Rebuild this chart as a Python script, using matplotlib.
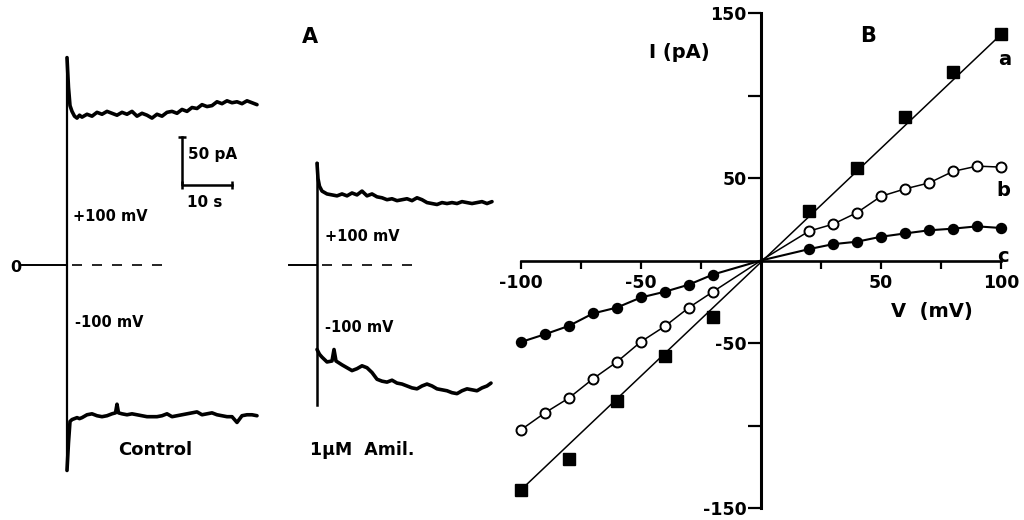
import matplotlib
matplotlib.use("Agg")
import matplotlib.pyplot as plt
import numpy as np

plt.rcParams['font.family'] = ['DejaVu Sans']
plt.rcParams['font.weight'] = 'bold'

# ---- panel A: current traces (time in s, current in pA) ----
ctrl_up_t = [0, 0.3, 0.6, 1, 1.5, 2, 2.5, 3] + list(range(4, 39))
ctrl_up_i = [216, 185, 166, 160, 155, 153, 156, 154,
             157, 155, 159, 157, 160, 158, 156, 159, 157, 160,
             155, 158, 156, 153, 157, 155, 159, 160, 158, 162,
             160, 164, 163, 167, 165, 166, 170, 168, 171, 169,
             170, 168, 171, 169, 167]

ctrl_dn_t = [0, 0.3, 0.6, 1, 1.5, 2, 2.5, 3, 4, 5, 6, 7, 8, 9, 9.7, 10, 10.3] + list(range(11, 39))
ctrl_dn_i = [-214, -185, -163, -161, -160, -159, -160, -159,
             -156, -155, -157, -158, -157, -155, -154, -145, -154,
             -155, -156, -155, -156, -157, -158, -158, -158, -157, -155,
             -158, -157, -156, -155, -154, -153, -156, -155, -154, -156,
             -157, -158, -158, -164, -157, -156, -156, -157]

amil_up_t = [0, 0.2, 0.5] + list(range(1, 36))
amil_up_i = [106, 90, 82,
             77, 74, 73, 72, 74, 72, 75, 73, 77, 72,
             74, 71, 70, 68, 69, 67, 68, 69, 67, 70,
             68, 65, 64, 63, 65, 64, 65, 64, 66, 65,
             64, 65, 66, 64, 66]

amil_dn_t = [0, 0.5, 1, 2, 3, 3.4, 3.8] + list(range(5, 35)) + [34.8]
amil_dn_i = [-88, -93, -96, -101, -100, -88, -100,
             -104, -107, -110, -108, -105, -107, -112, -119, -121, -122,
             -120, -123, -124, -126, -128, -129, -126, -124, -126, -129,
             -130, -131, -133, -134, -131, -129, -130, -131, -128, -126,
             -123]

ctrl_artifact = [-214, 216]
amil_artifact = [-146, 106]
amil_offset = 50  # s, second recording drawn to the right

# ---- panel B: I-V curves ----
v_a = [-100, -80, -60, -40, -20, 20, 40, 60, 80, 100]
i_a = [-139, -120, -85, -58, -34, 30, 56, 87, 114, 137]

v_bc = [-100, -90, -80, -70, -60, -50, -40, -30, -20, 0,
        20, 30, 40, 50, 60, 70, 80, 90, 100]
i_b = [-102.6, -92.3, -83.3, -71.7, -61.4, -49.2, -39.8, -28.5, -18.9, 0,
       17.8, 22, 29, 38.9, 43.4, 47, 54, 57.2, 56.6]
i_c = [-49.4, -44.7, -39.6, -32.1, -28.5, -22.4, -18.9, -14.6, -8.5, 0,
       6.9, 9.9, 11.4, 14.4, 16.4, 18.3, 19.3, 20.7, 19.7]

fig = plt.figure(figsize=(10.24, 5.2), dpi=100)

# panel A
axA = fig.add_axes([0, 0, 500 / 1024, 1])
axA.set_xlim(-13.4, 86.6)
axA.set_ylim(-265.6, 276)
axA.axis('off')

tr = dict(color='black', lw=2.6, solid_joinstyle='round', solid_capstyle='round')
axA.plot(ctrl_up_t, ctrl_up_i, **tr)
axA.plot(ctrl_dn_t, ctrl_dn_i, **tr)
axA.plot(np.array(amil_up_t) + amil_offset, amil_up_i, **tr)
axA.plot(np.array(amil_dn_t) + amil_offset, amil_dn_i, **tr)
axA.plot([0, 0], ctrl_artifact, color='black', lw=1.6)
axA.plot([amil_offset, amil_offset], amil_artifact, color='black', lw=1.8)

# zero-current lines
axA.plot([-9, 0], [0, 0], color='black', lw=1.4)
axA.plot([1, 20.2], [0, 0], color='black', lw=1.2, dashes=(6, 6))
axA.plot([amil_offset - 5.6, amil_offset], [0, 0], color='black', lw=1.4)
axA.plot([amil_offset + 1, amil_offset + 20.4], [0, 0], color='black', lw=1.2, dashes=(6, 6))

# scale bar 50 pA / 10 s
axA.plot([23, 23, 33], [133.3, 83.3, 83.3], color='black', lw=1.8)
axA.plot([23], [133.3], marker='_', ms=6, mew=1.8, color='black')
axA.plot([23, 33], [83.3, 83.3], ls='none', marker='|', ms=6, mew=1.8, color='black')

axA.text(-10.2, -3, '0', fontsize=11.5, ha='center', va='center')
axA.text(1.2, 50, '+100 mV', fontsize=10.5, ha='left', va='center')
axA.text(1.6, -59.4, '-100 mV', fontsize=10.5, ha='left', va='center')
axA.text(17.6, -192.7, 'Control', fontsize=13, ha='center', va='center')
axA.text(24.2, 114.6, '50 pA', fontsize=11, ha='left', va='center')
axA.text(24, 65.6, '10 s', fontsize=11, ha='left', va='center')
axA.text(48.6, 237.5, 'A', fontsize=15, ha='center', va='center')
axA.text(amil_offset + 1.6, 30, '+100 mV', fontsize=10.5, ha='left', va='center')
axA.text(amil_offset + 1.6, -65.6, '-100 mV', fontsize=10.5, ha='left', va='center')
axA.text(amil_offset - 1.4, -192.7, '1\u03bcM  Amil.', fontsize=12.5, ha='left', va='center')

# panel B
axB = fig.add_axes([521 / 1024, 1 - 508 / 520, 480 / 1024, 495 / 520])
axB.set_xlim(-100, 100)
axB.set_ylim(-150, 150)
axB.patch.set_alpha(0)
for s in ['top', 'right']:
    axB.spines[s].set_visible(False)
axB.spines['left'].set_position(('data', 0))
axB.spines['bottom'].set_position(('data', 0))
axB.spines['left'].set_linewidth(2.2)
axB.spines['bottom'].set_linewidth(1.9)

axB.set_xticks([-100, -75, -50, -25, 25, 50, 75, 100])
axB.set_xticklabels(['-100', '', '-50', '', '', '50', '', '100'])
axB.set_yticks([-150, -100, -50, 50, 100, 150])
axB.set_yticklabels(['-150', '', '-50', '50', '', '150'])
axB.tick_params(axis='x', direction='out', length=6, width=1.6, pad=4, labelsize=12.5)
axB.tick_params(axis='y', direction='out', length=9.5, width=1.6, pad=1, labelsize=12.5)

# a: straight line drawn between the end points of the data
axB.plot([v_a[0], v_a[-1]], [i_a[0], i_a[-1]], color='black', lw=1.1, clip_on=False)
axB.plot(v_a, i_a, ls='none', marker='s', ms=8.5, color='black', clip_on=False)

axB.plot(v_bc, i_b, color='black', lw=1.1, marker='o', ms=7.2, mfc='white',
         mec='black', mew=1.4, markevery=[i for i, v in enumerate(v_bc) if v != 0],
         clip_on=False)
axB.plot(v_bc, i_c, color='black', lw=1.5, marker='o', ms=7.2, mfc='black',
         mec='black', markevery=[i for i, v in enumerate(v_bc) if v != 0],
         clip_on=False)

axB.text(-34.2, 125.8, 'I (pA)', fontsize=14, ha='center', va='center')
axB.text(44.6, 136, 'B', fontsize=15, ha='center', va='center')
axB.text(71.3, -31, 'V  (mV)', fontsize=14, ha='center', va='center')
axB.text(101.7, 121.6, 'a', fontsize=14, ha='center', va='center')
axB.text(100.8, 42.3, 'b', fontsize=14, ha='center', va='center')
axB.text(100.8, 2.7, 'c', fontsize=14, ha='center', va='center')

fig.savefig('out.png', dpi=100)
